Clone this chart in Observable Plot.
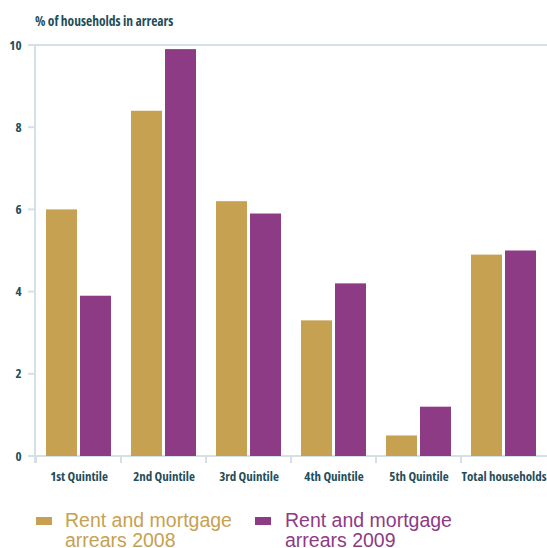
<!DOCTYPE html>
<html><head><meta charset="utf-8">
<script src="https://cdn.jsdelivr.net/npm/d3@7"></script>
<script src="https://cdn.jsdelivr.net/npm/@observablehq/plot@0.6"></script>
<style>
body{margin:0;background:#fff;}
#chart{width:547px;height:548px;overflow:hidden;position:relative;background:#fff}
#chart svg text{font-stretch:condensed}
.legend{position:absolute;top:510px;left:0;width:547px;font-family:"Liberation Sans",Arial,sans-serif;font-size:19.5px;line-height:20px}
.item{position:absolute;top:0}
.sw{position:absolute;top:7px;width:16px;height:8px}
.lab{position:absolute;left:29px;top:0;width:190px}
</style></head><body><div id="chart"></div><script>
const categories = ["1st Quintile","2nd Quintile","3rd Quintile","4th Quintile","5th Quintile","Total households"];
const series = ["Rent and mortgage arrears 2008","Rent and mortgage arrears 2009"];
const values2008 = [6.0, 8.4, 6.2, 3.3, 0.5, 4.9];
const values2009 = [3.9, 9.9, 5.9, 4.2, 1.2, 5.0];
const yTicks = [0, 2, 4, 6, 8, 10];
const colors = ["#c6a152", "#8e3b85"];
const titleText = "% of households in arrears";

const data = categories.flatMap((c, i) => [
  {category: c, series: series[0], value: values2008[i]},
  {category: c, series: series[1], value: values2009[i]}
]);

const textColor = "#1f4e5a";
const lineColor = "#d5e0e5";
const font = '"Open Sans","Liberation Sans",Arial,sans-serif';

const plot = Plot.plot({
  width: 547, height: 500,
  marginLeft: 35, marginRight: 0, marginTop: 45, marginBottom: 44,
  style: {fontFamily: font, fontSize: "13px", fontWeight: "bold", fontStretch: "condensed", color: textColor, background: "white", overflow: "visible"},
  fx: {domain: categories, paddingInner: 0.24, paddingOuter: 0.12, label: null, axis: "bottom", tickSize: 0, tickPadding: 15},
  x: {domain: series, paddingInner: 0.09, paddingOuter: 0, axis: null},
  y: {domain: [0, 10], ticks: yTicks, tickSize: 0, tickPadding: 25, label: null, tickFormat: d => String(d)},
  color: {domain: series, range: colors},
  marks: [
    Plot.barY(data, {fx: "category", x: "series", y: "value", fill: "series"})
  ]
});

const chart = document.getElementById("chart");
chart.appendChild(plot);

// axis lines drawn from the library's own scales
const svg = d3.select(plot);
const ys = plot.scale("y"), fxs = plot.scale("fx");
const y0 = ys.apply(0), y10 = ys.apply(10);
const xL = fxs.range[0], xR = 547;
const g = svg.insert("g", ":first-child").attr("stroke", lineColor).attr("stroke-width", 2);
g.append("line").attr("x1", xL).attr("x2", xL).attr("y1", y10).attr("y2", y0 + 7);
yTicks.forEach(t => g.append("line").attr("x1", xL - 7).attr("x2", xL).attr("y1", ys.apply(t)).attr("y2", ys.apply(t)));
[0, 10].forEach(t => g.append("line").attr("x1", xL).attr("x2", xR).attr("y1", ys.apply(t)).attr("y2", ys.apply(t)));
const gap = (fxs.step - fxs.bandwidth) / 2;
categories.forEach(c => {
  const bx = fxs.apply(c) - gap;
  g.append("line").attr("x1", bx).attr("x2", bx).attr("y1", y0).attr("y2", y0 + 7);
});
svg.append("text").attr("x", xL).attr("y", 26).attr("fill", textColor).attr("text-anchor", "start")
  .style("font-family", font).style("font-size", "13.5px").style("font-weight", "bold").text(titleText);

// legend
const legend = document.createElement("div");
legend.className = "legend";
const lefts = [36, 255];
series.forEach((s, i) => {
  const it = document.createElement("div");
  it.className = "item";
  it.style.left = lefts[i] + "px";
  const sw = document.createElement("div");
  sw.className = "sw"; sw.style.background = colors[i];
  const lab = document.createElement("div");
  lab.className = "lab"; lab.style.color = colors[i]; lab.textContent = s;
  if (i === 1) lab.style.left = "30px";
  it.appendChild(sw); it.appendChild(lab);
  legend.appendChild(it);
});
chart.appendChild(legend);
</script></body></html>
